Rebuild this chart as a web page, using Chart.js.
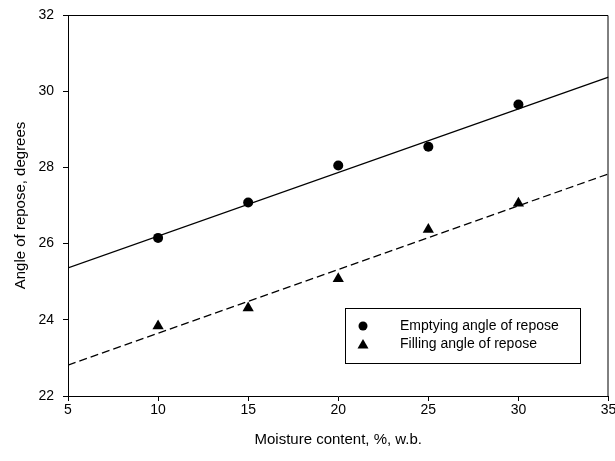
<!DOCTYPE html>
<html>
<head>
<meta charset="utf-8">
<script src="https://cdn.jsdelivr.net/npm/chart.js@4/dist/chart.umd.min.js"></script>
<style>
  html, body { margin: 0; padding: 0; background: #fff; }
  #wrap { width: 615px; height: 461px; position: relative; }
</style>
</head>
<body>
<div id="wrap"><canvas id="c" width="615" height="461"></canvas></div>
<script>
// ---- data ----
const moisture = [10, 15, 20, 25, 30];
const emptyingAngle = [26.15, 27.08, 28.05, 28.54, 29.65];
const fillingAngle = [23.84, 24.31, 25.08, 26.37, 27.06];
const fitMoisture = [5, 35];
const emptyingFit = [25.36, 30.37];
const fillingFit = [22.81, 27.83];
const xTicks = [5, 10, 15, 20, 25, 30, 35];
const yTicks = [22, 24, 26, 28, 30, 32];
const seriesLabels = ['Emptying angle of repose', 'Filling angle of repose'];
const xTitle = 'Moisture content, %, w.b.';
const yTitle = 'Angle of repose, degrees';

const FONT = '"Liberation Sans", Arial, Helvetica, sans-serif';
const toXY = (xs, ys) => xs.map((x, i) => ({ x: x, y: ys[i] }));

const framePlugin = {
  id: 'frame',
  afterDatasetsDraw(chart) {
    const { ctx, chartArea: a } = chart;
    ctx.save();
    ctx.strokeStyle = '#000';
    ctx.lineWidth = 1;
    ctx.beginPath();
    ctx.moveTo(a.left, a.top + 0.5);
    ctx.lineTo(a.right - 0.5, a.top + 0.5);
    ctx.lineTo(a.right - 0.5, a.bottom);
    ctx.stroke();
    ctx.restore();
  }
};

const legendPlugin = {
  id: 'boxLegend',
  afterDraw(chart) {
    const { ctx, chartArea: a } = chart;
    const left = a.left + 277, top = a.top + 293, w = 235, h = 55;
    ctx.save();
    ctx.fillStyle = '#fff';
    ctx.fillRect(left, top, w, h);
    ctx.strokeStyle = '#000';
    ctx.lineWidth = 1;
    ctx.strokeRect(left + 0.5, top + 0.5, w, h);
    ctx.fillStyle = '#000';
    ctx.font = '14px ' + FONT;
    ctx.textBaseline = 'middle';
    ctx.textAlign = 'left';
    seriesLabels.forEach((lab, i) => {
      const cy = top + 18 + i * 18;
      const mx = left + 18;
      ctx.beginPath();
      if (i === 0) {
        ctx.arc(mx, cy, 4.5, 0, Math.PI * 2);
      } else {
        ctx.moveTo(mx, cy - 5);
        ctx.lineTo(mx + 5.5, cy + 4.5);
        ctx.lineTo(mx - 5.5, cy + 4.5);
        ctx.closePath();
      }
      ctx.fill();
      ctx.fillText(lab, left + 55, cy);
    });
    ctx.restore();
  }
};

new Chart(document.getElementById('c'), {
  type: 'scatter',
  data: {
    datasets: [
      {
        label: seriesLabels[0],
        data: toXY(moisture, emptyingAngle),
        pointStyle: 'circle', pointRadius: 5,
        backgroundColor: '#000', borderColor: '#000', borderWidth: 0,
        showLine: false, order: 0
      },
      {
        label: seriesLabels[1],
        data: toXY(moisture, fillingAngle),
        pointStyle: 'triangle', pointRadius: 6.5,
        backgroundColor: '#000', borderColor: '#000', borderWidth: 0,
        showLine: false, order: 0
      },
      {
        label: 'Emptying fit',
        data: toXY(fitMoisture, emptyingFit),
        showLine: true, pointRadius: 0,
        borderColor: '#000', borderWidth: 1.3, order: 1
      },
      {
        label: 'Filling fit',
        data: toXY(fitMoisture, fillingFit),
        showLine: true, pointRadius: 0,
        borderColor: '#000', borderWidth: 1.3, borderDash: [8, 4], order: 1
      }
    ]
  },
  options: {
    responsive: false,
    animation: false,
    layout: { padding: { top: 15, right: 5, left: 0, bottom: 0 } },
    plugins: { legend: { display: false }, tooltip: { enabled: false } },
    scales: {
      x: {
        type: 'linear', min: 5, max: 35,
        afterBuildTicks: (s) => { s.ticks = xTicks.map(v => ({ value: v })); },
        afterFit: (s) => { s.height = 65; s.paddingLeft = 0; s.paddingRight = 0; },
        ticks: { color: '#000', font: { family: FONT, size: 14 }, padding: 1, maxRotation: 0 },
        grid: { drawOnChartArea: false, drawTicks: true, tickLength: 5, color: '#000' },
        border: { display: true, color: '#000', width: 1 },
        title: { display: true, text: xTitle, color: '#000', font: { family: FONT, size: 15 }, padding: { top: 0, bottom: 12 } }
      },
      y: {
        type: 'linear', min: 22, max: 32,
        afterBuildTicks: (s) => { s.ticks = yTicks.map(v => ({ value: v })); },
        afterFit: (s) => { s.width = 68; s.paddingTop = 0; s.paddingBottom = 0; },
        ticks: { color: '#000', font: { family: FONT, size: 14 }, padding: 9 },
        grid: { drawOnChartArea: false, drawTicks: true, tickLength: 5, color: '#000' },
        border: { display: true, color: '#000', width: 1 },
        title: { display: true, text: yTitle, color: '#000', font: { family: FONT, size: 15 }, padding: { top: 12, bottom: 0 } }
      }
    }
  },
  plugins: [framePlugin, legendPlugin]
});
</script>
</body>
</html>
